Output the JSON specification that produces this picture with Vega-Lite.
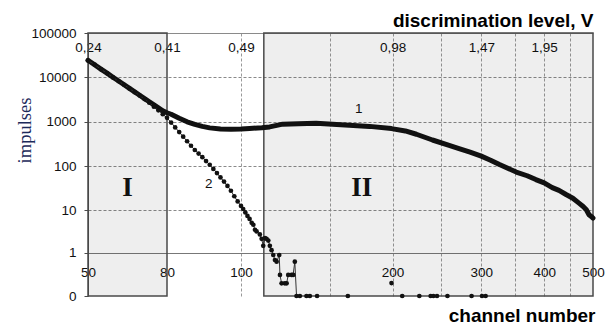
{
  "$schema": "https://vega.github.io/schema/vega-lite/v6.json",
  "width": 505,
  "height": 263,
  "autosize": {"type": "none"},
  "padding": {"left": 88, "top": 33, "right": 16, "bottom": 28},
  "background": "white",
  "config": {"view": {"stroke": null}, "font": "Liberation Sans"},
  "resolve": {"axis": {"x": "independent"}},
  "datasets": {
    "regions": [
      {"from": 50, "to": 80, "name": "I"},
      {"from": 111, "to": 500, "name": "II"}
    ],
    "notes": [
      {"channel": 171.3, "impulses": 1973, "text": "1", "kind": "curve"},
      {"channel": 90.7, "impulses": 39, "text": "2", "kind": "curve"},
      {"channel": 63.2, "impulses": 31.6, "text": "I", "kind": "region"},
      {"channel": 173.6, "impulses": 31.6, "text": "II", "kind": "region"}
    ],
    "curves": [
      {"series": "1", "channel": 50, "impulses": 24300},
      {"series": "1", "channel": 52, "impulses": 19300},
      {"series": "1", "channel": 54, "impulses": 15400},
      {"series": "1", "channel": 56, "impulses": 12500},
      {"series": "1", "channel": 58, "impulses": 10100},
      {"series": "1", "channel": 60, "impulses": 8290},
      {"series": "1", "channel": 62, "impulses": 6820},
      {"series": "1", "channel": 64, "impulses": 5650},
      {"series": "1", "channel": 66, "impulses": 4730},
      {"series": "1", "channel": 68, "impulses": 3960},
      {"series": "1", "channel": 70, "impulses": 3340},
      {"series": "1", "channel": 72, "impulses": 2830},
      {"series": "1", "channel": 74, "impulses": 2410},
      {"series": "1", "channel": 76, "impulses": 2060},
      {"series": "1", "channel": 78, "impulses": 1770},
      {"series": "1", "channel": 80, "impulses": 1600},
      {"series": "1", "channel": 81, "impulses": 1480},
      {"series": "1", "channel": 83, "impulses": 1200},
      {"series": "1", "channel": 85, "impulses": 1000},
      {"series": "1", "channel": 87, "impulses": 877},
      {"series": "1", "channel": 89, "impulses": 790},
      {"series": "1", "channel": 91, "impulses": 731},
      {"series": "1", "channel": 94, "impulses": 690},
      {"series": "1", "channel": 97, "impulses": 683},
      {"series": "1", "channel": 100, "impulses": 690},
      {"series": "1", "channel": 104, "impulses": 711},
      {"series": "1", "channel": 110, "impulses": 738},
      {"series": "1", "channel": 114, "impulses": 769},
      {"series": "1", "channel": 121, "impulses": 887},
      {"series": "1", "channel": 130, "impulses": 910},
      {"series": "1", "channel": 141, "impulses": 934},
      {"series": "1", "channel": 152, "impulses": 887},
      {"series": "1", "channel": 164, "impulses": 841},
      {"series": "1", "channel": 180, "impulses": 790},
      {"series": "1", "channel": 199, "impulses": 704},
      {"series": "1", "channel": 212, "impulses": 624},
      {"series": "1", "channel": 223, "impulses": 525},
      {"series": "1", "channel": 240, "impulses": 390},
      {"series": "1", "channel": 259, "impulses": 295},
      {"series": "1", "channel": 271, "impulses": 250},
      {"series": "1", "channel": 285, "impulses": 208},
      {"series": "1", "channel": 300, "impulses": 169},
      {"series": "1", "channel": 313, "impulses": 137},
      {"series": "1", "channel": 326, "impulses": 109},
      {"series": "1", "channel": 352, "impulses": 74},
      {"series": "1", "channel": 370, "impulses": 61},
      {"series": "1", "channel": 385, "impulses": 50},
      {"series": "1", "channel": 400, "impulses": 42},
      {"series": "1", "channel": 415, "impulses": 33},
      {"series": "1", "channel": 428, "impulses": 28.5},
      {"series": "1", "channel": 442, "impulses": 23},
      {"series": "1", "channel": 456, "impulses": 19},
      {"series": "1", "channel": 469, "impulses": 14.7},
      {"series": "1", "channel": 478, "impulses": 12.3},
      {"series": "1", "channel": 485, "impulses": 10.4},
      {"series": "1", "channel": 491, "impulses": 8},
      {"series": "1", "channel": 496, "impulses": 7.3},
      {"series": "1", "channel": 500, "impulses": 6.7},
      {"series": "2", "channel": 50, "impulses": 24000},
      {"series": "2", "channel": 52, "impulses": 19500},
      {"series": "2", "channel": 54, "impulses": 15200},
      {"series": "2", "channel": 56, "impulses": 12400},
      {"series": "2", "channel": 58, "impulses": 10000},
      {"series": "2", "channel": 60, "impulses": 8200},
      {"series": "2", "channel": 62, "impulses": 6800},
      {"series": "2", "channel": 64, "impulses": 5600},
      {"series": "2", "channel": 66, "impulses": 4650},
      {"series": "2", "channel": 68, "impulses": 3900},
      {"series": "2", "channel": 70, "impulses": 3250},
      {"series": "2", "channel": 72, "impulses": 2700},
      {"series": "2", "channel": 74, "impulses": 2190},
      {"series": "2", "channel": 76, "impulses": 1820},
      {"series": "2", "channel": 78, "impulses": 1480},
      {"series": "2", "channel": 80, "impulses": 1233},
      {"series": "2", "channel": 81, "impulses": 964},
      {"series": "2", "channel": 82, "impulses": 750},
      {"series": "2", "channel": 83, "impulses": 589},
      {"series": "2", "channel": 84, "impulses": 463},
      {"series": "2", "channel": 85, "impulses": 366},
      {"series": "2", "channel": 86, "impulses": 289},
      {"series": "2", "channel": 87, "impulses": 232},
      {"series": "2", "channel": 88, "impulses": 193},
      {"series": "2", "channel": 89, "impulses": 160},
      {"series": "2", "channel": 90, "impulses": 131},
      {"series": "2", "channel": 91, "impulses": 108},
      {"series": "2", "channel": 92, "impulses": 87},
      {"series": "2", "channel": 93, "impulses": 70},
      {"series": "2", "channel": 94, "impulses": 56},
      {"series": "2", "channel": 95, "impulses": 45},
      {"series": "2", "channel": 96, "impulses": 36},
      {"series": "2", "channel": 97, "impulses": 28},
      {"series": "2", "channel": 98, "impulses": 21},
      {"series": "2", "channel": 99, "impulses": 16},
      {"series": "2", "channel": 100, "impulses": 12.7},
      {"series": "2", "channel": 101, "impulses": 10.8},
      {"series": "2", "channel": 102, "impulses": 9},
      {"series": "2", "channel": 103, "impulses": 7.5},
      {"series": "2", "channel": 104, "impulses": 6.4},
      {"series": "2", "channel": 105, "impulses": 5.2},
      {"series": "2", "channel": 105.8, "impulses": 4.7},
      {"series": "2", "channel": 106.6, "impulses": 3.6},
      {"series": "2", "channel": 107.4, "impulses": 3.3},
      {"series": "2", "channel": 109, "impulses": 2.8},
      {"series": "2", "channel": 109.9, "impulses": 2.2},
      {"series": "2", "channel": 110.7, "impulses": 1.5},
      {"series": "2", "channel": 111.6, "impulses": 2.3},
      {"series": "2", "channel": 112.4, "impulses": 2.2},
      {"series": "2", "channel": 113.3, "impulses": 2.0},
      {"series": "2", "channel": 114.1, "impulses": 1.5},
      {"series": "2", "channel": 115, "impulses": 1.17},
      {"series": "2", "channel": 115.9, "impulses": 0.885},
      {"series": "2", "channel": 116.8, "impulses": 0.655},
      {"series": "2", "channel": 117.7, "impulses": 0.59},
      {"series": "2", "channel": 119.1, "impulses": 0.885},
      {"series": "2", "channel": 119.5, "impulses": 0.237},
      {"series": "2", "channel": 120.4, "impulses": 0.112},
      {"series": "2", "channel": 122.2, "impulses": 0.112},
      {"series": "2", "channel": 123.2, "impulses": 0.112},
      {"series": "2", "channel": 124.1, "impulses": 0.237},
      {"series": "2", "channel": 126, "impulses": 0.237},
      {"series": "2", "channel": 126.9, "impulses": 0.237},
      {"series": "2", "channel": 127.9, "impulses": 0.59},
      {"series": "2", "channel": 128.9, "impulses": 0},
      {"series": "2", "channel": 130.9, "impulses": 0},
      {"series": "2", "channel": 134.9, "impulses": 0},
      {"series": "2", "channel": 137, "impulses": 0},
      {"series": "2", "channel": 141.6, "impulses": 0},
      {"series": "2", "channel": 163, "impulses": 0},
      {"series": "2", "channel": 199, "impulses": 0.115},
      {"series": "2", "channel": 209, "impulses": 0},
      {"series": "2", "channel": 226, "impulses": 0},
      {"series": "2", "channel": 238, "impulses": 0},
      {"series": "2", "channel": 241, "impulses": 0},
      {"series": "2", "channel": 245, "impulses": 0},
      {"series": "2", "channel": 257, "impulses": 0},
      {"series": "2", "channel": 287, "impulses": 0},
      {"series": "2", "channel": 301, "impulses": 0},
      {"series": "2", "channel": 306, "impulses": 0}
    ]
  },
  "layer": [
    {
      "data": {"name": "regions"},
      "mark": {"type": "rect", "fill": "#000000", "fillOpacity": 0.065, "stroke": "#4a4a4a", "strokeWidth": 1.5},
      "encoding": {
        "x": {
          "field": "from", "type": "quantitative",
          "scale": {"type": "log", "domain": [50, 80, 100, 500], "range": [0, 79, 153, 505], "nice": false},
          "axis": {
            "orient": "bottom",
            "values": [50, 80, 100, 150, 200, 250, 300, 350, 400, 450, 500],
            "labelExpr": "indexof([150, 250, 350, 450], datum.value) >= 0 ? '' : datum.label",
            "grid": true, "gridColor": "#999999", "gridDash": [3, 2],
            "gridOpacity": {"condition": {"test": "datum.value === 50 || datum.value === 80 || datum.value === 500", "value": 0}, "value": 1},
            "ticks": false, "tickSize": 0, "domain": false,
            "labelBaseline": "middle", "labelAlign": "center", "labelPadding": -24, "labelDx": 3,
            "labelFont": "Liberation Sans", "labelFontSize": 13.5, "labelColor": "#111111",
            "labelOverlap": false, "labelFlush": false, "labelBound": false,
            "title": "channel number", "titleFont": "Liberation Sans", "titleFontSize": 19, "titleFontWeight": "bold", "titleColor": "#000000",
            "titleX": 507, "titleY": 25, "titleAlign": "right", "titleBaseline": "alphabetic"
          }
        },
        "x2": {"field": "to"}
      }
    },
    {
      "data": {"name": "curves"},
      "transform": [{"filter": "datum.series == '1'"}],
      "mark": {"type": "line", "color": "#111111", "strokeWidth": 5, "strokeCap": "round", "strokeJoin": "round"},
      "encoding": {
        "x": {"field": "channel", "type": "quantitative", "axis": null},
        "y": {
          "field": "impulses", "type": "quantitative",
          "scale": {"type": "symlog", "constant": 0.12, "domain": [0, 100000], "nice": false},
          "axis": {
            "orient": "left",
            "values": [0, 1, 10, 100, 1000, 10000, 100000], "format": "d",
            "grid": true,
            "gridColor": {"condition": {"test": "datum.value === 1", "value": "#777777"}, "value": "#8a8a8a"},
            "gridDash": {"condition": {"test": "datum.value === 1 || datum.value === 100000", "value": []}, "value": [3, 2]},
            "gridOpacity": {"condition": {"test": "datum.value === 0", "value": 0}, "value": 1},
            "domain": true, "domainColor": "#4a4a4a",
            "ticks": true, "tickSize": 4, "tickColor": "#4a4a4a",
            "labelFont": "Liberation Sans", "labelFontSize": 13.5, "labelColor": "#111111", "labelPadding": 8,
            "labelOverlap": false, "labelFlush": false, "labelBound": false,
            "title": "impulses", "titleFont": "Liberation Serif", "titleFontSize": 18.5, "titleFontWeight": "normal", "titleColor": "#1c2a5a",
            "titleAngle": -90, "titleX": -64, "titleY": 97, "titleAlign": "center", "titleBaseline": "middle"
          }
        }
      }
    },
    {
      "data": {"name": "curves"},
      "transform": [{"filter": "datum.series == '2' && datum.channel <= 129"}],
      "mark": {"type": "line", "color": "#333333", "strokeWidth": 1},
      "encoding": {
        "x": {"field": "channel", "type": "quantitative", "axis": null},
        "y": {"field": "impulses", "type": "quantitative"}
      }
    },
    {
      "data": {"name": "curves"},
      "transform": [{"filter": "datum.series == '2'"}],
      "mark": {"type": "point", "filled": true, "size": 22, "color": "#111111", "opacity": 1},
      "encoding": {
        "x": {
          "field": "channel", "type": "quantitative",
          "axis": {
            "orient": "top",
            "values": [50, 80, 100, 200, 300, 400],
            "labelExpr": "datum.value == 50 ? '0,24' : datum.value == 80 ? '0,41' : datum.value == 100 ? '0,49' : datum.value == 200 ? '0,98' : datum.value == 300 ? '1,47' : '1,95'",
            "grid": false, "ticks": false, "tickSize": 0, "domain": false,
            "labelBaseline": "middle", "labelAlign": "center", "labelPadding": -14.5, "labelDx": 3,
            "labelFont": "Liberation Sans", "labelFontSize": 13.5, "labelColor": "#111111",
            "labelOverlap": false, "labelFlush": false, "labelBound": false,
            "title": "discrimination level, V", "titleFont": "Liberation Sans", "titleFontSize": 19, "titleFontWeight": "bold", "titleColor": "#000000",
            "titleX": 505, "titleY": -7, "titleAlign": "right", "titleBaseline": "alphabetic"
          }
        },
        "y": {"field": "impulses", "type": "quantitative"}
      }
    },
    {
      "data": {"name": "notes"},
      "transform": [{"filter": "datum.kind == 'curve'"}],
      "mark": {"type": "text", "font": "Liberation Sans", "fontSize": 13.5, "color": "#111111", "baseline": "middle", "align": "center"},
      "encoding": {
        "x": {"field": "channel", "type": "quantitative", "axis": null},
        "y": {"field": "impulses", "type": "quantitative"},
        "text": {"field": "text"}
      }
    },
    {
      "data": {"name": "notes"},
      "transform": [{"filter": "datum.kind == 'region'"}],
      "mark": {"type": "text", "font": "Liberation Serif", "fontSize": 27, "fontWeight": "bold", "color": "#111111", "baseline": "middle", "align": "center"},
      "encoding": {
        "x": {"field": "channel", "type": "quantitative", "axis": null},
        "y": {"field": "impulses", "type": "quantitative"},
        "text": {"field": "text"}
      }
    }
  ]
}
